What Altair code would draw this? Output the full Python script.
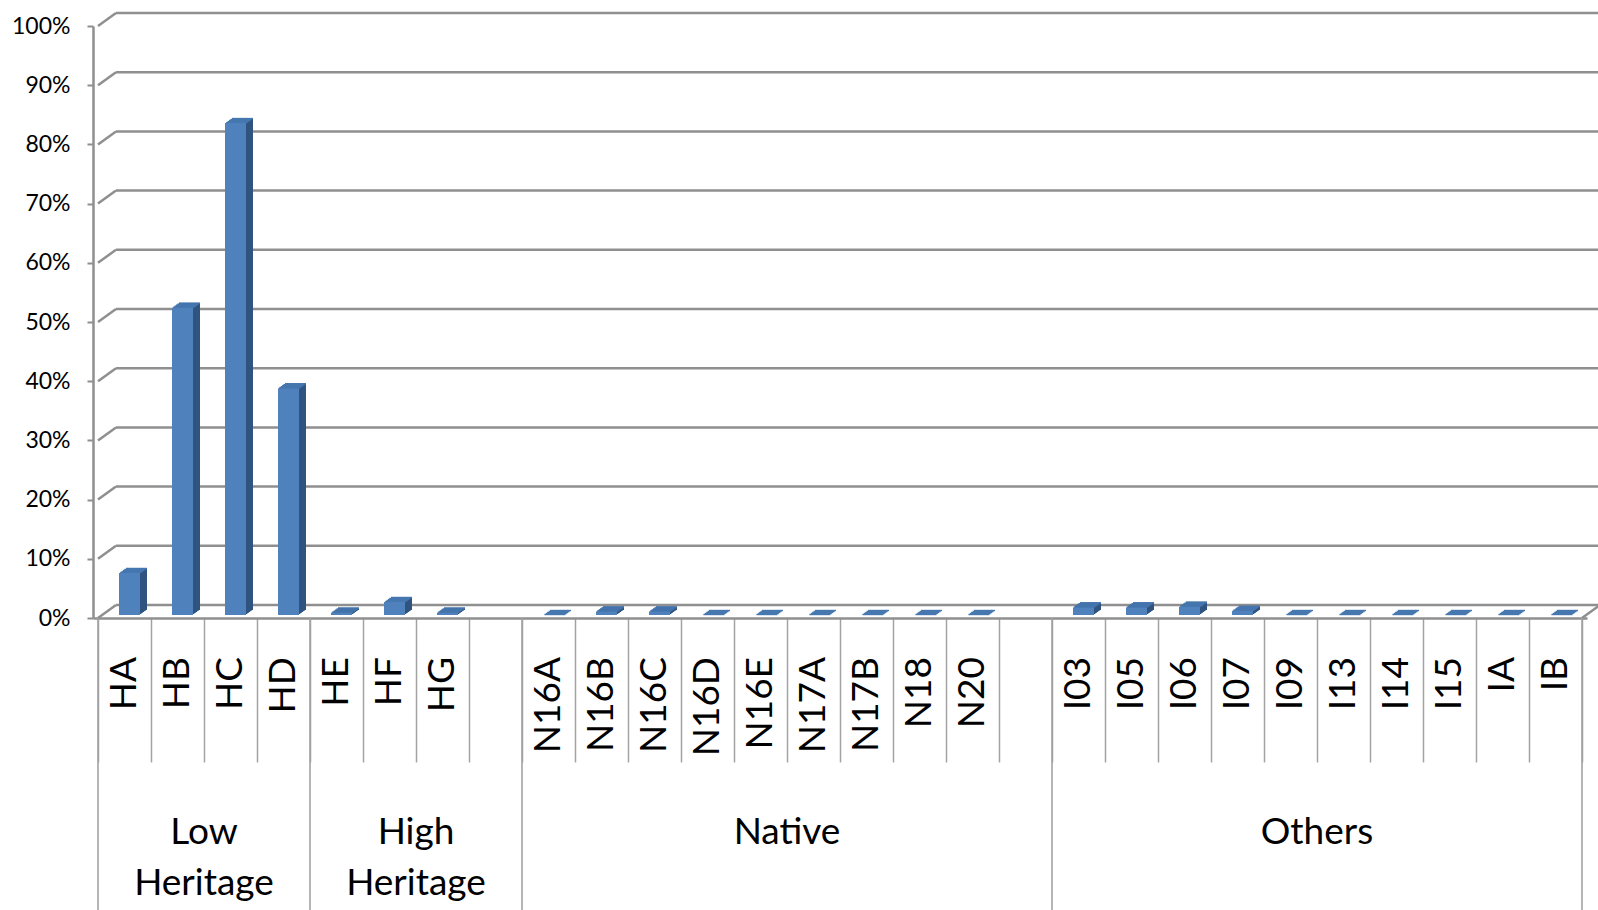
import altair as alt
import pandas as pd

# Category slots along the floor ("" marks an empty spacer slot)
categories = ["HA", "HB", "HC", "HD", "HE", "HF", "HG", "",
              "N16A", "N16B", "N16C", "N16D", "N16E", "N17A", "N17B", "N18", "N20", "",
              "I03", "I05", "I06", "I07", "I09", "I13", "I14", "I15", "IA", "IB"]
shares = [0.071, 0.519, 0.831, 0.383, 0.004, 0.022, 0.004, None,
          0.0, 0.006, 0.006, 0.0, 0.0, 0.0, 0.0, 0.0, 0.0, None,
          0.013, 0.013, 0.014, 0.007, 0.0, 0.0, 0.0, 0.0, 0.0, 0.0]

groups = ["Low\nHeritage", "High\nHeritage", "Native", "Others"]
group_sizes = [4, 4, 10, 10]

y_ticks = [0.0, 0.1, 0.2, 0.3, 0.4, 0.5, 0.6, 0.7, 0.8, 0.9, 1.0]

# ---- styling -------------------------------------------------------------
FONT = "Lato"
FRONT = "#4f81bd"
SIDE = "#30547f"
TOP = "#4677b0"
GRID = "#8f8f8f"
DIV = "#a3a3a3"
N_SLOTS = len(categories)
PLOT_W = 1494             # floor width (all slots)
PLOT_H = 592              # 0% .. 100%
LEFT, TOP_PAD = 93, 26
BOTTOM = 910 - TOP_PAD - PLOT_H   # room below the floor for the label rows
DX, DY = 18, -13          # depth offset of the back wall
BAR_W = 21                # front face width of a column
BAR_DX, BAR_DY = 5, -3    # columns stand midway in depth
DEPTH_STEPS = 5

# ---- tables ----------------------------------------------------------------
slots = pd.DataFrame({"cat": categories, "share": shares})
slots["center"] = slots.index + 0.5
slots["zero"] = 0.0
bars = slots.dropna(subset=["share"])
labels = slots[slots["cat"] != ""]

starts = [sum(group_sizes[:i]) for i in range(len(groups))]
grp = pd.DataFrame({
    "name": groups,
    "center": [s + n / 2 for s, n in zip(starts, group_sizes)],
    "zero": 0.0,
})
bounds = pd.DataFrame({"b": starts + [N_SLOTS], "zero": 0.0})

grid = pd.DataFrame({"v": y_ticks, "left": 0.0, "right": float(N_SLOTS)})
corner = pd.DataFrame({"x": [float(N_SLOTS)], "zero": [0.0]})

# ---- scales & axes ---------------------------------------------------------
xs = alt.Scale(domain=[0, N_SLOTS], nice=False, zero=False)
ys = alt.Scale(domain=[0, 1], nice=False)

x_axis = alt.Axis(values=list(range(N_SLOTS + 1)), labels=False, title=None,
                  grid=False, tickSize=144, tickColor=DIV, tickWidth=1.5,
                  domainColor=GRID, domainWidth=2.5)
y_axis = alt.Axis(values=y_ticks, format=".0%", title=None, grid=False,
                  labelFont=FONT, labelFontSize=23, labelColor="#000000",
                  labelPadding=17, tickSize=6, tickColor=GRID, tickWidth=2,
                  domainColor=GRID, domainWidth=2.5)


def X(f):
    return alt.X(f, type="quantitative", scale=xs, axis=x_axis)


def Y(f):
    return alt.Y(f, type="quantitative", scale=ys, axis=y_axis)


layers = []

# back-wall gridlines and their diagonal links to the front axis
layers.append(alt.Chart(grid).mark_rule(
    color=GRID, strokeWidth=2.5, opacity=1,
    xOffset=DX, x2Offset=DX, yOffset=DY, y2Offset=DY
).encode(x=X("left"), x2="right", y=Y("v"), y2="v"))
layers.append(alt.Chart(grid).mark_rule(
    color=GRID, strokeWidth=2.5, opacity=1, x2Offset=DX, y2Offset=DY
).encode(x=X("left"), x2="left", y=Y("v"), y2="v"))
layers.append(alt.Chart(corner).mark_rule(
    color=GRID, strokeWidth=2.5, opacity=1, x2Offset=DX, y2Offset=DY
).encode(x=X("x"), x2="x", y=Y("zero"), y2="zero"))

# group separators running down through the label rows
layers.append(alt.Chart(bounds).mark_rule(
    color=DIV, strokeWidth=1.6, opacity=1, y2Offset=BOTTOM
).encode(x=X("b"), y=Y("zero"), y2="zero"))

# 3-D columns: extruded dark side, lighter top face, then the front face
for k in range(DEPTH_STEPS, 0, -1):
    ox = BAR_DX + k * 1.4
    oy = BAR_DY - k
    layers.append(alt.Chart(bars).mark_bar(
        size=BAR_W, color=SIDE, opacity=1,
        xOffset=ox, yOffset=oy, y2Offset=oy
    ).encode(x=X("center"), y=Y("share")))
for k in range(DEPTH_STEPS, 0, -1):
    ox = BAR_DX + k * 1.4
    oy = BAR_DY - k + 0.5
    layers.append(alt.Chart(bars).mark_tick(
        orient="horizontal", size=BAR_W, thickness=1.4, color=TOP, opacity=1,
        xOffset=ox, yOffset=oy
    ).encode(x=X("center"), y=Y("share")))
layers.append(alt.Chart(bars).mark_bar(
    size=BAR_W, color=FRONT, opacity=1,
    xOffset=BAR_DX, yOffset=BAR_DY, y2Offset=BAR_DY
).encode(x=X("center"), y=Y("share")))

# category names, rotated
layers.append(alt.Chart(labels).mark_text(
    angle=270, align="right", baseline="middle", font=FONT, fontSize=37,
    color="#000000", yOffset=39
).encode(x=X("center"), y=Y("zero"), text="cat:N"))

# group names
layers.append(alt.Chart(grp).mark_text(
    align="center", baseline="alphabetic", font=FONT, fontSize=37,
    lineBreak="\n", lineHeight=51, color="#000000", yOffset=226
).encode(x=X("center"), y=Y("zero"), text="name:N"))

chart = alt.layer(*layers).properties(
    width=PLOT_W,
    height=PLOT_H,
    autosize=alt.AutoSizeParams(type="none"),
    padding={"left": LEFT, "top": TOP_PAD,
             "right": 1598 - LEFT - PLOT_W, "bottom": BOTTOM},
    background="white",
).configure_view(stroke=None)

chart.save("out.html", embed_options={"renderer": "svg", "actions": False})
